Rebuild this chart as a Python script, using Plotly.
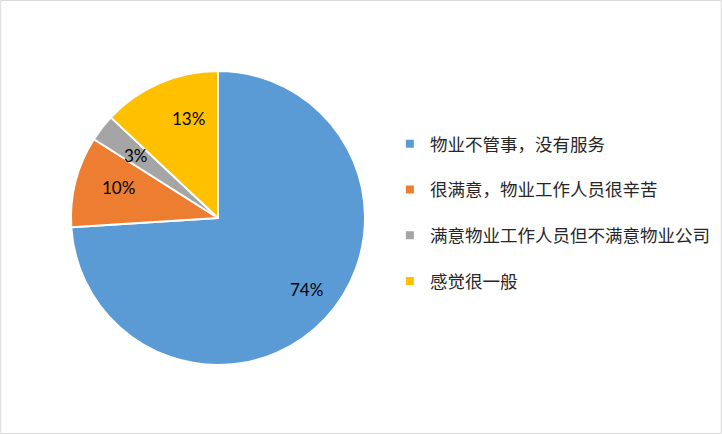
import math
import plotly.graph_objects as go

labels = ["物业不管事，没有服务", "很满意，物业工作人员很辛苦", "满意物业工作人员但不满意物业公司", "感觉很一般"]
values = [74, 10, 3, 13]
colors = ["#5B9BD5", "#ED7D31", "#A5A5A5", "#FFC000"]

W, H = 722, 434
cx, cy, R = 218, 218, 147

fig = go.Figure()
fig.add_trace(go.Pie(
    labels=labels, values=values, sort=False, direction="clockwise", rotation=0,
    marker=dict(colors=colors, line=dict(color="white", width=2)),
    textinfo="none", hoverinfo="label+percent", showlegend=False,
    domain=dict(x=[(cx - R) / W, (cx + R) / W], y=[1 - (cy + R) / H, 1 - (cy - R) / H]),
))

# legend via dummy traces (for spacing control)
for i, (lab, col) in enumerate(zip(labels, colors)):
    fig.add_trace(go.Scatter(
        x=[None], y=[None], mode="markers", name=lab, legendgroup=str(i),
        marker=dict(symbol="square", size=8, color=col),
    ))

# percentage labels
total = sum(values)
annotations = []
cum = 0
for v in values:
    mid = (cum + v / 2) / total * 2 * math.pi
    cum += v
    r = 0.83 * R
    px = cx + r * math.sin(mid)
    py = cy - r * math.cos(mid)
    annotations.append(dict(
        x=px / W, y=1 - py / H, xref="paper", yref="paper", showarrow=False,
        text=f"{round(v / total * 100)}%", font=dict(size=17, color="#000000", family="Lato, Liberation Sans, sans-serif"),
    ))

fig.update_layout(
    width=W, height=H,
    margin=dict(l=0, r=0, t=0, b=0),
    paper_bgcolor="white", plot_bgcolor="white",
    xaxis=dict(visible=False), yaxis=dict(visible=False),
    annotations=annotations,
    legend=dict(
        x=0.54, y=0.71, xanchor="left", yanchor="top",
        traceorder="grouped", tracegroupgap=20,
        font=dict(size=17.5, color="#262626", family="Noto Sans CJK SC, sans-serif"),
        itemwidth=30,
    ),
    shapes=[dict(type="rect", xref="paper", yref="paper", x0=0.001, y0=0.001, x1=0.999, y1=0.999,
                 line=dict(color="#D9D9D9", width=1))],
)

fig.write_html("out.html", config={"displayModeBar": False},
               post_script="document.body.style.margin='0';document.body.style.overflow='hidden';")
